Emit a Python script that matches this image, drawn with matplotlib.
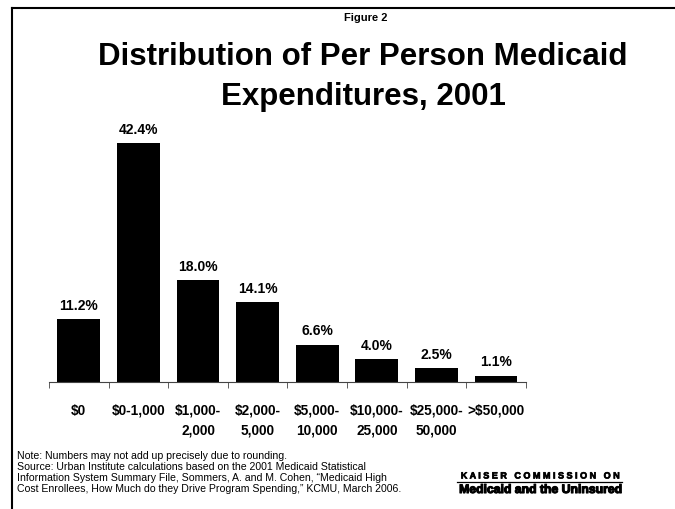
import matplotlib.pyplot as plt
import matplotlib.patheffects as pe
import numpy as np

plt.rcParams['font.family'] = ['Liberation Sans', 'DejaVu Sans']

categories = ['$0', '$0-1,000', '$1,000-\n2,000', '$2,000-\n5,000', '$5,000-\n10,000',
              '$10,000-\n25,000', '$25,000-\n50,000', '>$50,000']
shares = [11.2, 42.4, 18.0, 14.1, 6.6, 4.0, 2.5, 1.1]

fig = plt.figure(figsize=(6.75, 5.1), dpi=100)
ax = fig.add_axes([0.0726, 0.249, 0.7064, 0.553])

x = np.arange(len(shares))
ax.bar(x, shares, width=0.72, color='black')
for xi, v in zip(x, shares):
    ax.text(xi, v + 1.3, f'{v:.1f}%', ha='center', va='bottom',
            fontsize=10, fontweight='bold')

ax.set_xlim(-0.5, len(shares) - 0.5)
ax.set_ylim(0, 50)
ax.set_yticks([])
for s in ['top', 'right', 'left']:
    ax.spines[s].set_visible(False)
ax.spines['bottom'].set_color('#444444')

# category labels centred, tick marks on the boundaries
ax.set_xticks(x)
ax.set_xticklabels(categories, fontsize=9.8, fontweight='bold', linespacing=1.55)
ax.tick_params(axis='x', length=0, pad=15)
ax.set_xticks(np.arange(len(shares) + 1) - 0.5, minor=True)
ax.tick_params(axis='x', which='minor', length=4, color='#444444')

# page frame
fig.add_artist(plt.Line2D([11.5 / 675, 11.5 / 675], [0, 1 - 9 / 510], color='black', lw=1.5))
fig.add_artist(plt.Line2D([11.5 / 675, 1], [1 - 9 / 510, 1 - 9 / 510], color='black', lw=1.5))

fig.text(366 / 675, 1 - 18 / 510, 'Figure 2', ha='center', va='center',
         fontsize=8, fontweight='bold')
fig.text(363 / 675, 1 - 77 / 510, 'Distribution of Per Person Medicaid\nExpenditures, 2001',
         ha='center', va='center', fontsize=22.5, fontweight='bold', linespacing=1.4)

notes = ('Note: Numbers may not add up precisely due to rounding.\n'
         'Source: Urban Institute calculations based on the 2001 Medicaid Statistical\n'
         'Information System Summary File, Sommers, A. and M. Cohen, \u201cMedicaid High\n'
         'Cost Enrollees, How Much do they Drive Program Spending,\u201d KCMU, March 2006.')
fig.text(17 / 675, 1 - 472.5 / 510, notes, ha='left', va='center', fontsize=7.6, linespacing=1.1)

fig.text(540 / 675, 1 - 477 / 510, 'K A I S E R   C O M M I S S I O N   O N',
         ha='center', va='center', fontsize=6.5, fontweight='bold',
         path_effects=[pe.withStroke(linewidth=0.5, foreground='black')])
fig.add_artist(plt.Line2D([457 / 675, 622 / 675], [1 - 482.5 / 510, 1 - 482.5 / 510],
                          color='black', lw=0.9))
fig.text(541 / 675, 1 - 491 / 510, 'Medicaid and the Uninsured', ha='center', va='center',
         fontsize=8.8, fontweight='bold',
         path_effects=[pe.withStroke(linewidth=0.8, foreground='black')])

fig.savefig('out.png', dpi=100)
